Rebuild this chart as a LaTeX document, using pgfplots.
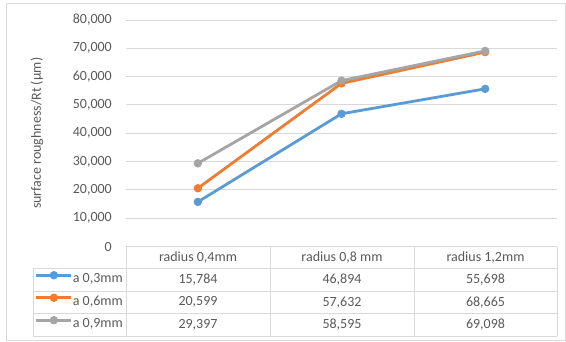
\documentclass[border=0pt]{standalone}
\usepackage{pgfplots}
\pgfplotsset{compat=1.18}
\usepackage{fontspec}
\setmainfont{Carlito}
\definecolor{s1}{HTML}{5B9BD5}
\definecolor{s2}{HTML}{ED7D31}
\definecolor{s3}{HTML}{A5A5A5}
\definecolor{txt}{HTML}{595959}
\definecolor{grd}{HTML}{D9D9D9}
\begin{document}
\fontsize{14bp}{17bp}\selectfont
\begin{tikzpicture}
\path[use as bounding box] (0bp,0bp) rectangle (566bp,-342bp);
\draw[grd, line width=1bp] (6.5bp,-3.5bp) rectangle (565.5bp,-340.5bp);
\begin{axis}[
  at={(126bp,-246.6bp)}, anchor=south west,
  scale only axis, width=431bp, height=226.6bp,
  xmin=-0.5, xmax=2.5, ymin=0, ymax=80000,
  xtick=\empty, ytick={0,10000,...,80000},
  ymajorgrids, grid style={grd, line width=1bp},
  axis line style={draw=none}, major tick length=0pt,
  scaled y ticks=false,
  yticklabel style={txt, inner sep=0pt, anchor=east, xshift=-14bp,
    /pgf/number format/.cd, fixed, 1000 sep={,}, assume math mode=true},
  ylabel={surface roughness/Rt (µm)},
  every axis y label/.style={at={(axis description cs:-0.2065,0.5)}, rotate=90, anchor=center, text=txt},
  clip=false,
  legend style={at={(-0.2111,-0.0944)}, anchor=north west, draw=none, fill=none,
    inner sep=0pt, outer sep=0pt, row sep=0pt, text=txt,
    nodes={inner sep=0pt, minimum height=22.5bp, text=txt},
    /tikz/every even column/.append style={column sep=0.5bp}},
  legend cell align=left,
  legend image code/.code={\draw[#1, mark repeat=2, mark phase=2] plot coordinates {(0bp,4bp) (17.5bp,4bp) (35bp,4bp)};},
]
\addplot[s1, line width=2.8bp, mark=*, mark size=3.8bp, mark options={line width=0.75bp}]
  coordinates {(0,15784) (1,46894) (2,55698)};
\addlegendentry{a 0,3mm}
\addplot[s2, line width=2.8bp, mark=*, mark size=3.8bp, mark options={line width=0.75bp}]
  coordinates {(0,20599) (1,57632) (2,68665)};
\addlegendentry{a 0,6mm}
\addplot[s3, line width=2.8bp, mark=*, mark size=3.8bp, mark options={line width=0.75bp}]
  coordinates {(0,29397) (1,58595) (2,69098)};
\addlegendentry{a 0,9mm}
\end{axis}
\begin{scope}[x=1bp, y=1bp]
\draw[grd, line width=1bp]
  (33,-268.5) -- (557,-268.5)
  (33,-291) -- (557,-291)
  (33,-313.5) -- (557,-313.5)
  (33,-336) -- (557,-336)
  (33,-268.5) -- (33,-336)
  (126,-246.6) -- (126,-336)
  (270,-246.6) -- (270,-336)
  (414,-246.6) -- (414,-336)
  (557,-246.6) -- (557,-336);
\begin{scope}[every node/.style={text=txt, inner sep=0pt}]
\node at (198,-257.5) {radius 0,4mm};
\node at (342,-257.5) {radius 0,8 mm};
\node at (485.5,-257.5) {radius 1,2mm};
\node at (198,-279.75) {15,784};
\node at (342,-279.75) {46,894};
\node at (485.5,-279.75) {55,698};
\node at (198,-302.25) {20,599};
\node at (342,-302.25) {57,632};
\node at (485.5,-302.25) {68,665};
\node at (198,-324.75) {29,397};
\node at (342,-324.75) {58,595};
\node at (485.5,-324.75) {69,098};
\end{scope}
\end{scope}
\end{tikzpicture}
\end{document}
